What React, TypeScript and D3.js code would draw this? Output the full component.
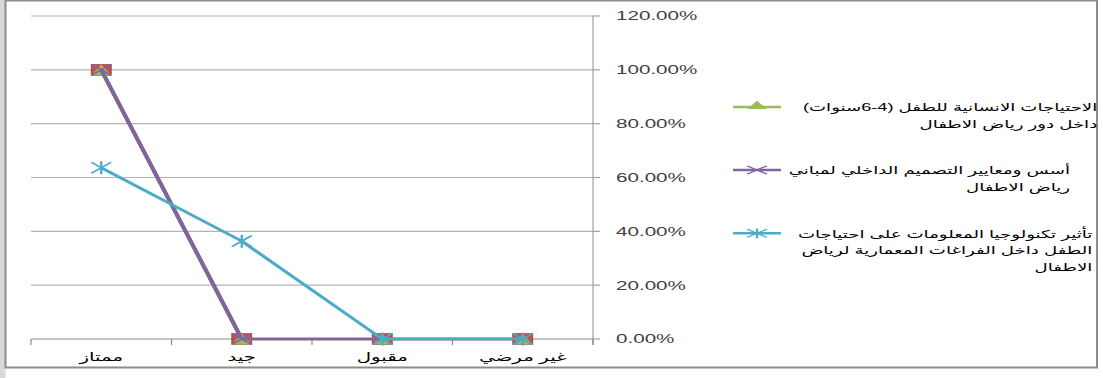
import React from 'react';
import * as d3 from 'd3';

// Rating categories along the bottom axis (left to right)
const categories = ['ممتاز', 'جيد', 'مقبول', 'غير مرضي'];

// Percentage ticks on the right-hand value axis
const yTicks = [0, 0.2, 0.4, 0.6, 0.8, 1.0, 1.2];

// Series values (share of responses per rating)
const baseSeries = [1, 0, 0, 0];
const needsSeries = [1, 0, 0, 0];
const designSeries = [1, 0, 0, 0];
const techSeries = [0.6364, 0.3636, 0, 0];

// Legend labels, one string per wrapped line
const needsLabel = ['الاحتياجات الانسانية للطفل (4-6سنوات)', 'داخل دور رياض الاطفال'];
const designLabel = ['أسس ومعايير التصميم الداخلي لمباني', 'رياض الاطفال'];
const techLabel = ['تأثير تكنولوجيا المعلومات على احتياجات', 'الطفل داخل الفراغات المعمارية لرياض', 'الاطفال'];

const W = 1103;
const H = 378;
// The chart is drawn in a narrower coordinate space and widened to fill the frame
const SX = 1.65;
const VW = W / SX;

const COLORS = {
  base: '#C0504D',
  needs: '#9BBB59',
  design: '#8064A2',
  tech: '#4BACC6',
};

const FONT = '"Liberation Sans", Arial, "DejaVu Sans", sans-serif';

type MarkerKind = 'square' | 'triangle' | 'cross' | 'star';

function Marker({ kind, cx, cy, color }: { kind: MarkerKind; cx: number; cy: number; color: string }) {
  const hw = 6;
  const hh = 5.5;
  if (kind === 'square') {
    return <rect x={cx - hw} y={cy - hh} width={hw * 2} height={hh * 2} fill={color} stroke="#a33f3c" strokeWidth={0.6} />;
  }
  if (kind === 'triangle') {
    return <path d={`M${cx},${cy - hh}L${cx + hw},${cy + hh}L${cx - hw},${cy + hh}Z`} fill={color} />;
  }
  if (kind === 'cross') {
    return (
      <path d={`M${cx - hw},${cy - hh}L${cx + hw},${cy + hh}M${cx - hw},${cy + hh}L${cx + hw},${cy - hh}`} stroke={color} strokeWidth={1.4} fill="none" />
    );
  }
  return (
    <path
      d={`M${cx - hw},${cy - hh}L${cx + hw},${cy + hh}M${cx - hw},${cy + hh}L${cx + hw},${cy - hh}M${cx},${cy - hh - 1}L${cx},${cy + hh + 1}`}
      stroke={color}
      strokeWidth={1.4}
      fill="none"
    />
  );
}

export default function App() {
  const x = d3.scaleBand<string>().domain(categories).range([31 / SX, 593 / SX]).paddingInner(0).paddingOuter(0);
  const y = d3.scaleLinear().domain([0, 1.2]).range([339, 16]);
  const cx = (c: string) => (x(c) ?? 0) + x.bandwidth() / 2;

  const line = d3
    .line<number>()
    .x((_, i) => cx(categories[i]))
    .y((d) => y(d));

  const series: { values: number[]; color: string; marker: MarkerKind }[] = [
    { values: baseSeries, color: COLORS.base, marker: 'square' },
    { values: needsSeries, color: COLORS.needs, marker: 'triangle' },
    { values: designSeries, color: COLORS.design, marker: 'cross' },
    { values: techSeries, color: COLORS.tech, marker: 'star' },
  ];

  const [x0, x1] = x.range();
  const boundaries = [...categories.map((c) => x(c) ?? 0), x1];

  const legend = [
    { lines: needsLabel, color: COLORS.needs, marker: 'triangle' as MarkerKind, y: 107, right: 665 },
    { lines: designLabel, color: COLORS.design, marker: 'cross' as MarkerKind, y: 170, right: 648.5 },
    { lines: techLabel, color: COLORS.tech, marker: 'star' as MarkerKind, y: 233.3, right: 662 },
  ];
  const legendX0 = 733 / SX;
  const legendX1 = 781 / SX;
  const legendMid = (legendX0 + legendX1) / 2;

  return (
    <svg
      width={W}
      height={H}
      viewBox={`0 0 ${VW} ${H}`}
      preserveAspectRatio="none"
      style={{ position: 'absolute', left: 0, top: 0, display: 'block', background: '#fff' }}
    >
      {/* page edge and chart frame */}
      <rect x={0} y={0} width={5.5 / SX} height={H} fill="#d9d9d9" />
      <rect
        x={5.5 / SX}
        y={0.5}
        width={(1097 - 5.5) / SX}
        height={367}
        fill="#fff"
        stroke="#8c8c8c"
        strokeWidth={2}
        vectorEffect="non-scaling-stroke"
      />

      {/* horizontal gridlines */}
      {yTicks.map((t) => (
        <line key={t} x1={x0} x2={x1} y1={y(t)} y2={y(t)} stroke={t === 0 ? '#8a8a8a' : '#b4b4b4'} strokeWidth={1.2} vectorEffect="non-scaling-stroke" />
      ))}

      {/* right value axis */}
      <line x1={x1} x2={x1} y1={y(1.2)} y2={y(0) + 6} stroke="#a0a0a0" strokeWidth={1.2} vectorEffect="non-scaling-stroke" />
      {yTicks.map((t) => (
        <g key={`yt-${t}`}>
          <line x1={x1} x2={x1 + 7 / SX} y1={y(t)} y2={y(t)} stroke="#a0a0a0" strokeWidth={1.2} vectorEffect="non-scaling-stroke" />
          <text x={616 / SX} y={y(t) + 4.5} fontFamily={FONT} fontSize={12.5} fill="#404040">
            {d3.format('.2%')(t)}
          </text>
        </g>
      ))}

      {/* category ticks and labels */}
      {boundaries.map((b, i) => (
        <line key={`xt-${i}`} x1={b} x2={b} y1={y(0)} y2={y(0) + 6} stroke="#8a8a8a" strokeWidth={1.2} vectorEffect="non-scaling-stroke" />
      ))}
      {categories.map((c) => (
        <text key={c} x={cx(c)} y={361} textAnchor="middle" direction="rtl" fontFamily={FONT} fontSize={12} fill="#000">
          {c}
        </text>
      ))}

      {/* series lines with markers */}
      {series.map((s, si) => (
        <g key={si}>
          <path d={line(s.values) ?? ''} fill="none" stroke={s.color} strokeWidth={2.5} strokeLinejoin="round" />
          {s.values.map((v, i) => (
            <Marker key={i} kind={s.marker} cx={cx(categories[i])} cy={y(v)} color={s.color} />
          ))}
        </g>
      ))}

      {/* legend */}
      {legend.map((l, li) => (
        <g key={li}>
          <line x1={legendX0} x2={legendX1} y1={l.y} y2={l.y} stroke={l.color} strokeWidth={2.4} />
          <g transform={`translate(${legendMid},${l.y}) scale(1,0.75)`}>
            <Marker kind={l.marker} cx={0} cy={l.marker === 'triangle' ? -3 : 0} color={l.color} />
          </g>
          {l.lines.map((t, ti) => (
            <text
              key={ti}
              x={l.right}
              y={l.y + 4.5 + ti * 16.7}
              textAnchor="start"
              direction="rtl"
              fontFamily={FONT}
              fontSize={11}
              fill="#000"
            >
              {t}
            </text>
          ))}
        </g>
      ))}
    </svg>
  );
}
